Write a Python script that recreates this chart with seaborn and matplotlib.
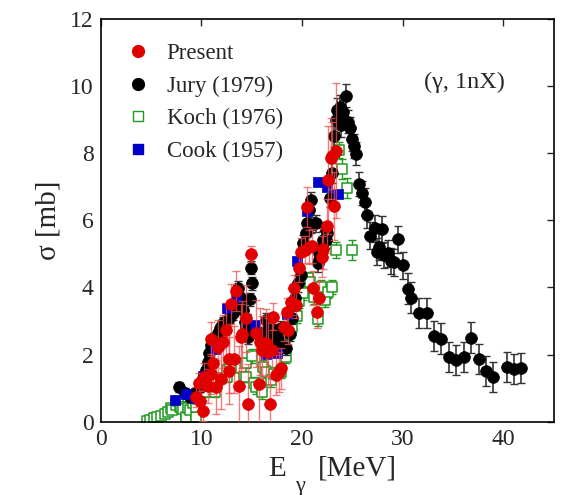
import numpy as np
import seaborn as sns
import matplotlib
matplotlib.use("Agg")
import matplotlib.pyplot as plt
from matplotlib.lines import Line2D

# Jury (1979)
jury_x = [7.8, 8.35, 8.85, 9.35, 9.85, 10.15, 10.5, 10.65, 10.8, 11.0, 11.3, 11.65, 11.8,
          12.15, 12.5, 12.8, 13.1, 13.3, 13.6, 13.8, 13.95, 14.1, 14.3, 14.45, 14.6, 14.85,
          15.05, 14.95, 15.8, 16.1, 16.2, 16.45, 16.6, 16.75, 16.95, 17.1, 17.3, 17.4, 17.75,
          17.9, 18.1, 18.4, 18.8, 19.0, 19.25, 19.55, 19.9, 20.05, 20.4, 20.5, 20.7, 20.9,
          20.9, 21.4, 21.55, 21.65, 21.7, 22.0, 22.05, 22.4, 22.4, 22.5, 22.8, 23.0, 23.2,
          23.4, 23.5, 23.8, 23.85, 24.1, 24.35, 24.6, 24.75, 24.95, 25.2, 25.4, 25.7, 25.9,
          26.2, 26.4, 26.7, 27.2, 27.4, 27.65, 27.9, 28.15, 28.5, 28.8, 29.1, 29.5, 30.0,
          30.5, 30.85, 31.6, 32.4, 33.1, 33.8, 34.6, 35.3, 36.1, 36.8, 37.55, 38.3, 39.0,
          40.3, 41.0, 41.7]
jury_y = [1.03, 0.85, 0.75, 0.85, 1.04, 1.29, 1.54, 1.79, 2.04, 2.29, 2.49, 2.63, 2.78,
          2.93, 3.03, 3.13, 3.23, 3.43, 3.98, 3.73, 3.58, 3.33, 2.98, 2.83, 2.53, 3.65,
          4.12, 4.59, 2.63, 2.24, 2.5, 3.03, 2.7, 2.83, 2.53, 2.43, 2.7, 2.29, 2.43,
          2.8, 2.24, 2.19, 2.6, 3.1, 3.68, 4.12, 4.37, 5.32, 5.62, 5.91, 6.3, 5.86,
          6.61, 5.91, 4.72, 4.82, 5.02, 5.22, 5.42, 5.42, 5.71, 5.62, 6.66, 7.4, 8.5,
          8.99, 9.29, 9.39, 8.84, 9.24, 9.72, 8.94, 8.74, 8.43, 8.22, 7.99, 7.08, 6.81,
          6.56, 6.16, 5.54, 5.76, 5.07, 5.22, 5.73, 4.97, 5.02, 4.79, 4.75, 5.44, 4.66,
          3.97, 3.70, 3.23, 3.23, 2.56, 2.48, 1.93, 1.84, 1.93, 2.51, 1.88, 1.51, 1.34,
          1.62, 1.57, 1.60]
jury_err = [0.15, 0.15, 0.15, 0.15, 0.15, 0.15, 0.15, 0.15, 0.15, 0.15, 0.15, 0.15, 0.15,
            0.2, 0.2, 0.2, 0.2, 0.2, 0.2, 0.2, 0.2, 0.2, 0.2, 0.2, 0.2, 0.2,
            0.2, 0.2, 0.2, 0.2, 0.2, 0.2, 0.2, 0.2, 0.2, 0.2, 0.2, 0.2, 0.2,
            0.2, 0.2, 0.2, 0.2, 0.2, 0.25, 0.25, 0.25, 0.25, 0.25, 0.25, 0.25, 0.25,
            0.25, 0.25, 0.25, 0.25, 0.25, 0.25, 0.25, 0.25, 0.25, 0.25, 0.25, 0.3, 0.3,
            0.35, 0.35, 0.35, 0.35, 0.35, 0.35, 0.35, 0.35, 0.35, 0.35, 0.35, 0.35, 0.35,
            0.4, 0.4, 0.4, 0.4, 0.4, 0.4, 0.4, 0.4, 0.4, 0.4, 0.4, 0.4, 0.4,
            0.45, 0.45, 0.45, 0.45, 0.45, 0.45, 0.45, 0.45, 0.45, 0.45, 0.45, 0.45, 0.45,
            0.45, 0.45, 0.45]

# Present
present_x = [9.45, 9.75, 9.85, 10.15, 10.3, 10.65, 10.95, 11.0, 11.15, 11.5, 11.65, 11.9,
             12.15, 12.4, 12.7, 12.75, 12.95, 13.2, 13.45, 13.7, 13.95, 14.05, 14.4, 14.65,
             14.95, 15.45, 15.7, 15.8, 16.05, 16.4, 16.6, 16.85, 17.05, 17.1, 17.4, 17.7,
             17.95, 18.2, 18.5, 18.6, 18.9, 19.15, 19.4, 19.65, 19.9, 20.25, 20.45, 20.7,
             21.0, 21.1, 21.45, 21.65, 21.95, 22.1, 22.45, 22.6, 22.85, 22.95, 23.2, 23.35]
present_y = [0.75, 1.16, 0.63, 0.32, 1.34, 1.06, 2.46, 1.42, 1.74, 1.04, 2.24, 1.27,
             2.39, 2.73, 1.52, 1.86, 3.51, 1.86, 3.9, 1.07, 2.52, 2.61, 3.08, 0.52,
             5.0, 2.63, 1.11, 2.38, 2.14, 2.36, 2.09, 0.53, 2.14, 3.13, 1.39, 1.49,
             1.59, 2.81, 3.28, 2.73, 3.58, 3.98, 3.48, 4.57, 5.07, 5.12, 6.39, 5.2,
             5.24, 3.98, 3.28, 3.68, 4.92, 5.14, 5.83, 7.2, 7.85, 7.92, 6.43, 8.08]
present_err = [0.3, 0.3, 0.3, 0.3, 0.4, 0.5, 0.5, 0.6, 0.8, 0.8, 0.8, 0.9,
               0.8, 0.8, 1.0, 1.0, 0.6, 1.0, 0.6, 1.2, 1.0, 1.0, 1.0, 1.2,
               0.25, 1.0, 1.2, 1.0, 1.0, 1.0, 1.0, 0.8, 0.8, 0.4, 0.6, 0.6,
               0.6, 0.4, 0.4, 0.4, 0.4, 0.4, 0.4, 0.4, 0.4, 0.4, 0.6, 0.5,
               0.5, 0.5, 0.5, 0.5, 0.6, 0.6, 0.8, 1.6, 1.2, 1.0, 1.0, 2.0]

# Koch (1976)
koch_x = [4.6, 4.9, 5.3, 5.6, 5.95, 6.35, 6.7, 7.0, 7.1, 7.5, 7.7, 7.85, 8.0, 8.2, 8.45,
          8.5, 8.7, 8.85, 9.15, 9.5, 9.5, 9.65, 10.5, 10.8, 11.4, 11.5, 11.95, 12.5, 12.55,
          12.8, 13.45, 13.95, 14.2, 14.45, 14.45, 15.0, 15.2, 15.45, 16.05, 16.1, 16.45,
          16.95, 17.25, 17.95, 18.4, 18.65, 19.0, 19.45, 19.7, 20.05, 20.55, 20.8, 21.15,
          21.55, 21.9, 22.3, 22.6, 22.95, 23.35, 23.65, 24.0, 24.45, 24.95]
koch_y = [0.02, 0.05, 0.1, 0.15, 0.18, 0.23, 0.3, 0.4, 0.35, 0.5, 0.63, 0.45, 0.45, 0.37, 0.1,
          0.15, 0.4, 0.35, 0.55, 0.15, 0.45, 0.67, 0.9, 1.09, 0.9, 1.19, 1.29, 1.34, 1.54,
          1.74, 1.74, 1.59, 1.34, 1.74, 1.34, 1.96, 1.14, 1.04, 0.88, 1.64, 1.49,
          1.24, 1.42, 1.49, 1.94, 2.63, 2.83, 3.15, 3.6, 3.83, 4.27, 4.15, 3.71,
          3.05, 4.02, 3.63, 3.88, 4.02, 5.12, 8.1, 7.52, 6.96, 5.12]
koch_err = [0.05, 0.05, 0.05, 0.05, 0.05, 0.05, 0.1, 0.1, 0.1, 0.1, 0.1, 0.1, 0.1, 0.1, 0.1,
            0.1, 0.1, 0.1, 0.1, 0.1, 0.1, 0.1, 0.15, 0.15, 0.15, 0.15, 0.15, 0.15, 0.15,
            0.15, 0.15, 0.15, 0.15, 0.15, 0.15, 0.2, 0.2, 0.2, 0.2, 0.2, 0.2,
            0.2, 0.2, 0.2, 0.2, 0.2, 0.2, 0.2, 0.2, 0.2, 0.2, 0.2, 0.2,
            0.2, 0.2, 0.2, 0.2, 0.2, 0.25, 0.25, 0.3, 0.3, 0.3]

# Cook (1957)
cook_x = [7.4, 8.45, 9.35, 10.2, 11.4, 12.5, 13.45, 14.4, 15.35, 16.4, 17.5, 18.5, 19.45,
          20.45, 21.55, 22.45, 23.55]
cook_y = [0.65, 0.83, 0.7, 1.35, 2.18, 3.4, 3.72, 3.05, 2.88, 2.03, 2.05, 3.22, 4.8,
          6.27, 7.15, 7.0, 6.78]

red = "#e00000"
green = "#1e9a1e"
blue = "#0000c8"

sns.set_style("white")
plt.rcParams["font.family"] = ["Liberation Serif", "DejaVu Serif"]

fig = plt.figure(figsize=(5.64, 4.95), dpi=100)
ax = fig.add_axes([0.1785, 0.148, 0.8035, 0.8136])

# Koch
ax.errorbar(koch_x, koch_y, yerr=koch_err, fmt="none", ecolor=green, elinewidth=1,
            capsize=3, capthick=1, zorder=1)
sns.scatterplot(x=koch_x, y=koch_y, marker="s", s=52, color="white", edgecolor=green,
                linewidth=1.1, ax=ax, zorder=2)

# Jury
ax.errorbar(jury_x, jury_y, yerr=jury_err, fmt="none", ecolor="#333333", elinewidth=1.2,
            capsize=3, capthick=1, zorder=3)
sns.scatterplot(x=jury_x, y=jury_y, marker="o", s=72, color="black", edgecolor="black",
                linewidth=0.5, ax=ax, zorder=4)

# Cook
sns.scatterplot(x=cook_x, y=cook_y, marker="s", s=60, color=blue, edgecolor=blue,
                linewidth=0.5, ax=ax, zorder=5)

# Present
ax.errorbar(present_x, present_y, yerr=present_err, fmt="none", ecolor="#f05050",
            elinewidth=1, capsize=3, capthick=1, alpha=0.75, zorder=6)
sns.scatterplot(x=present_x, y=present_y, marker="o", s=72, color=red, edgecolor=red,
                linewidth=0.5, ax=ax, zorder=7)

ax.set_xlim(0, 45)
ax.set_ylim(0, 12)
ax.set_xticks([0, 10, 20, 30, 40])
ax.set_yticks([0, 2, 4, 6, 8, 10, 12])
ax.tick_params(direction="in", top=True, right=True, length=5, width=1,
               labelsize=17, pad=5)
for sp in ax.spines.values():
    sp.set_linewidth(1.2)
    sp.set_color("black")

# x label: E, subscript gamma set low, then the unit
ax.set_xlabel("E", fontsize=21)
ax.xaxis.set_label_coords(0.389, -0.085)
ax.text(0.48, -0.085, "[MeV]", transform=ax.transAxes, fontsize=21, ha="left", va="top")
fig.text(0.532, 0.018, "γ", fontsize=16, ha="center", va="center")
ax.set_ylabel("σ [mb]", fontsize=21, labelpad=6)

ax.text(32.1, 10.1, "(γ, 1nX)", fontsize=17.5, ha="left", va="center")

handles = [
    Line2D([], [], marker="o", linestyle="none", markersize=8.5, color=red, label="Present"),
    Line2D([], [], marker="o", linestyle="none", markersize=8.5, color="black", label="Jury (1979)"),
    Line2D([], [], marker="s", linestyle="none", markersize=7.5, markerfacecolor="white",
           markeredgecolor=green, label="Koch (1976)"),
    Line2D([], [], marker="s", linestyle="none", markersize=7.5, color=blue, label="Cook (1957)"),
]
ax.legend(handles=handles, loc="upper left", bbox_to_anchor=(0.057, 0.94), frameon=False,
          fontsize=16.5, borderaxespad=0, borderpad=0, handlelength=1.0,
          handletextpad=0.75, labelspacing=0.5)

fig.savefig("out.png", dpi=100)
